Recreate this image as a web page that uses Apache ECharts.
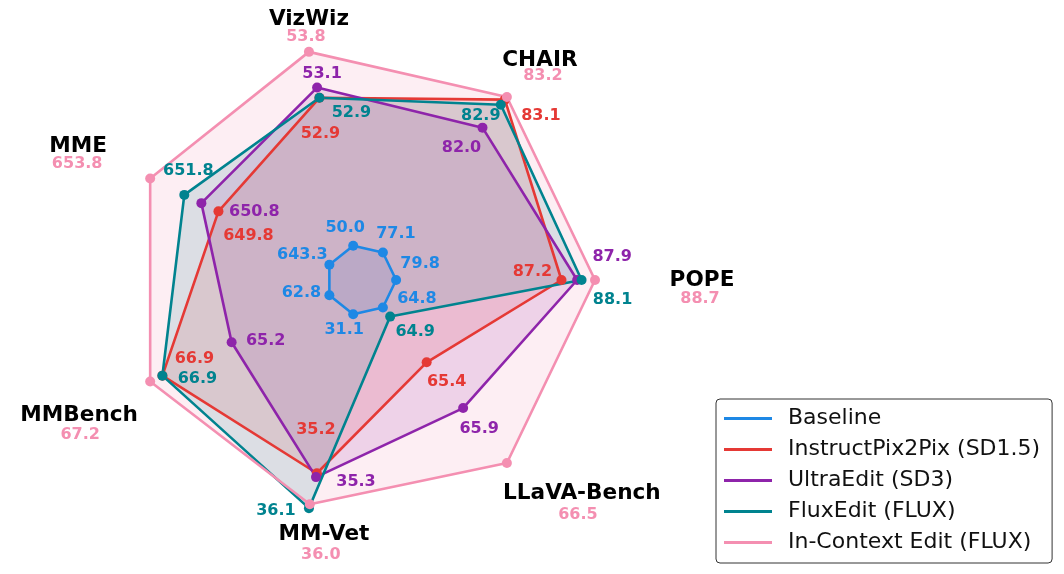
<!DOCTYPE html>
<html><head><meta charset="utf-8">
<script src="https://cdn.jsdelivr.net/npm/echarts@6/dist/echarts.min.js"></script>
<style>html,body{margin:0;padding:0;background:#fff}#chart{width:1064px;height:574px}</style>
</head><body><div id="chart"></div>
<script>
// ---------------- data ----------------
const indicators = ['POPE', 'CHAIR', 'VizWiz', 'MME', 'MMBench', 'MM-Vet', 'LLaVA-Bench'];
const seriesNames = ['Baseline', 'InstructPix2Pix (SD1.5)', 'UltraEdit (SD3)', 'FluxEdit (FLUX)', 'In-Context Edit (FLUX)'];
const baseline        = [79.8, 77.1, 50.0, 643.3, 62.8, 31.1, 64.8];
const instructPix2Pix = [87.2, 83.1, 52.9, 649.8, 66.9, 35.2, 65.4];
const ultraEdit       = [87.9, 82.0, 53.1, 650.8, 65.2, 35.3, 65.9];
const fluxEdit        = [88.1, 82.9, 52.9, 651.8, 66.9, 36.1, 64.9];
const inContextEdit   = [88.7, 83.2, 53.8, 653.8, 67.2, 36.0, 66.5];
const seriesValues = [baseline, instructPix2Pix, ultraEdit, fluxEdit, inContextEdit];

// ---------------- styles ----------------
const FONT = '"DejaVu Sans", "Liberation Sans", sans-serif';
const colors = ['#1E88E5', '#E53935', '#8E24AA', '#00838F', '#F48FB1'];
// pixel offsets of each value label from its point (per series, per indicator)
const labelOffsets = [
  [[24, -16], [13, -19], [-8, -18], [-27, -10], [-28, -2], [-9, 16], [34, -9]],
  [[-29, -8], [36, 16], [1, 36], [30, 24], [32, -17], [-1, -43], [20, 20]],
  [[35, -23], [-21, 20], [5, -14], [53, 9], [34, -1], [40, 5], [16, 21]],
  [[31, 20], [-20, 11], [32, 15], [4, -24], [35, 3], [-33, 3], [25, 15]],
  [[105, 18.5], [36, -21.5], [-3, -15.5], [-73, -14.5], [-70, 53.5], [11, 50.5], [71, 51.5]]
];
// pixel offsets of the category names from the axis end
const nameOffsets = [[107, 0], [33, -37], [0, -32], [-72, -32], [-71, 34], [15, 26], [75, 30]];
const innerFrac = 0.15;

// ---------------- chart ----------------
const chart = echarts.init(document.getElementById('chart'), null, { renderer: 'canvas' });

const indicatorDefs = indicators.map((name, i) => {
  const vals = seriesValues.map(s => s[i]);
  const lo = Math.min(...vals), hi = Math.max(...vals);
  return { name, min: lo - innerFrac / (1 - innerFrac) * (hi - lo), max: hi };
});

// translucent fills first, then lines + markers on top
const fillSeries = seriesNames.map((name, i) => ({
  type: 'radar',
  name: name,
  symbol: 'none',
  z: 1,
  silent: true,
  lineStyle: { width: 0, opacity: 0 },
  itemStyle: { color: colors[i] },
  areaStyle: { color: colors[i], opacity: 0.15 },
  data: [{ value: seriesValues[i], name: name }]
}));
const lineSeries = seriesNames.map((name, i) => ({
  type: 'radar',
  name: name,
  symbol: 'circle',
  symbolSize: 10,
  z: 3,
  lineStyle: { color: colors[i], width: 2.6 },
  itemStyle: { color: colors[i] },
  data: [{ value: seriesValues[i], name: name }]
}));

const option = {
  animation: false,
  backgroundColor: '#ffffff',
  textStyle: { fontFamily: FONT },
  radar: {
    center: [361, 280],
    radius: 234,
    startAngle: 0,
    shape: 'polygon',
    indicator: indicatorDefs,
    axisName: { show: false },
    axisLine: { show: false },
    splitLine: { show: false },
    splitArea: { show: false },
    axisTick: { show: false },
    axisLabel: { show: false }
  },
  legend: {
    orient: 'vertical',
    left: 716,
    top: 399,
    icon: 'rect',
    itemWidth: 48,
    itemHeight: 3,
    itemGap: 6,
    padding: [7, 12, 8, 8],
    borderColor: '#333333',
    borderWidth: 1,
    borderRadius: 4,
    backgroundColor: '#ffffff',
    itemStyle: { borderWidth: 0 },
    textStyle: { fontFamily: FONT, fontSize: 22, color: '#111111', lineHeight: 25, padding: [0, 0, 0, 11] },
    data: seriesNames.map((n, i) => ({ name: n, itemStyle: { color: colors[i], opacity: 1 } }))
  },
  series: fillSeries.concat(lineSeries)
};
chart.setOption(option);

// value labels and category names, placed from the radar coordinate system
function pointOf(value, idx) {
  try {
    const cs = chart.getModel().getComponent('radar', 0).coordinateSystem;
    return cs.dataToPoint(value, idx);
  } catch (e) {
    const ind = indicatorDefs[idx];
    const r = 234 * (value - ind.min) / (ind.max - ind.min);
    const a = idx * 2 * Math.PI / indicators.length;
    return [361 + r * Math.cos(a), 280 - r * Math.sin(a)];
  }
}

const graphics = [];
seriesValues.forEach((vals, s) => {
  vals.forEach((v, i) => {
    const p = pointOf(v, i);
    const o = labelOffsets[s][i];
    graphics.push({
      type: 'text', x: p[0] + o[0], y: p[1] + o[1], z: 100,
      style: { text: v.toFixed(1), fill: colors[s], font: 'bold 16px ' + FONT, align: 'center', verticalAlign: 'middle' }
    });
  });
});
indicatorDefs.forEach((ind, i) => {
  const p = pointOf(ind.max, i);
  const o = nameOffsets[i];
  graphics.push({
    type: 'text', x: p[0] + o[0], y: p[1] + o[1], z: 100,
    style: { text: ind.name, fill: '#000000', font: 'bold 21.6px ' + FONT, align: 'center', verticalAlign: 'middle' }
  });
});
chart.setOption({ graphic: graphics });
</script>
</body></html>
